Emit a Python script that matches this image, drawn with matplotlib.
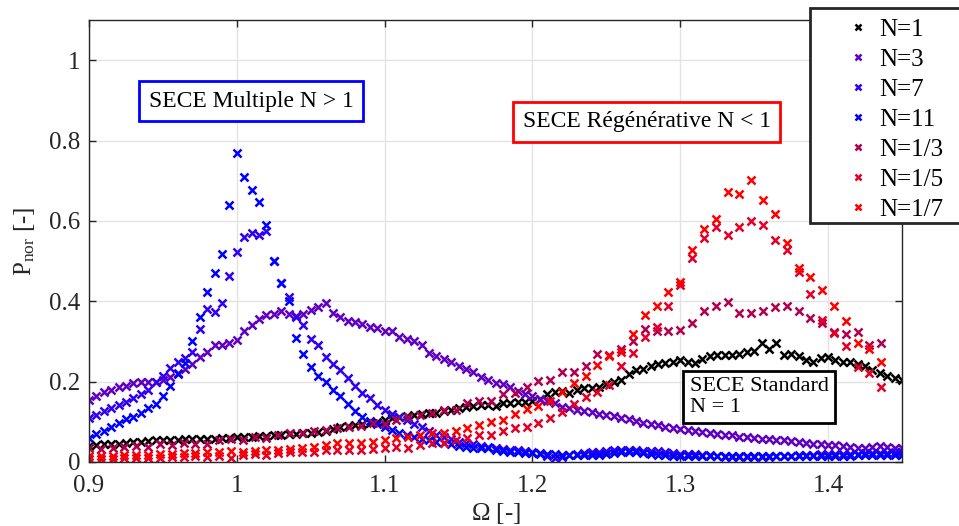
import numpy as np
import matplotlib
matplotlib.use("Agg")
import matplotlib.pyplot as plt
from matplotlib.patches import Rectangle

# ------------------------------------------
# Data
# ------------------------------------------

# dense sweeps: 0.900 ... 1.450, step 0.005
omega_dense = np.round(np.arange(0.9, 1.45001, 0.005), 3)

p_n1 = [
    0.040, 0.042, 0.044, 0.045, 0.046, 0.048, 0.050, 0.051, 0.052, 0.054,
    0.054, 0.055, 0.055, 0.056, 0.057, 0.057, 0.058, 0.058, 0.059, 0.060,
    0.061, 0.062, 0.063, 0.064, 0.065, 0.066, 0.068, 0.069, 0.070, 0.071,
    0.072, 0.075, 0.078, 0.082, 0.086, 0.089, 0.092, 0.095, 0.097, 0.099,
    0.104, 0.109, 0.112, 0.114, 0.117, 0.119, 0.121, 0.123, 0.126, 0.130,
    0.134, 0.137, 0.139, 0.141, 0.143, 0.140, 0.146, 0.148, 0.150, 0.150,
    0.152, 0.158, 0.168, 0.175, 0.177, 0.172, 0.180, 0.183, 0.184, 0.187,
    0.195, 0.199, 0.205, 0.218, 0.229, 0.232, 0.240, 0.243, 0.247, 0.250,
    0.253, 0.250, 0.247, 0.256, 0.263, 0.267, 0.266, 0.267, 0.270, 0.275,
    0.276, 0.297, 0.280, 0.297, 0.267, 0.270, 0.265, 0.255, 0.250, 0.258,
    0.262, 0.255, 0.250, 0.248, 0.244, 0.238, 0.228, 0.222, 0.214, 0.208,
    0.204,
]

p_n3 = [
    0.155, 0.165, 0.175, 0.180, 0.186, 0.190, 0.196, 0.200, 0.200, 0.200,
    0.205, 0.212, 0.222, 0.232, 0.245, 0.262, 0.275, 0.292, 0.290, 0.296,
    0.303, 0.325, 0.340, 0.356, 0.366, 0.368, 0.375, 0.368, 0.363, 0.368,
    0.378, 0.385, 0.395, 0.370, 0.360, 0.352, 0.348, 0.343, 0.337, 0.333,
    0.326, 0.325, 0.312, 0.306, 0.300, 0.290, 0.272, 0.263, 0.256, 0.249,
    0.240, 0.232, 0.223, 0.212, 0.203, 0.197, 0.193, 0.186, 0.177, 0.169,
    0.164, 0.158, 0.153, 0.146, 0.138, 0.134, 0.130, 0.127, 0.124, 0.120,
    0.117, 0.114, 0.110, 0.106, 0.102, 0.098, 0.095, 0.092, 0.088, 0.085,
    0.082, 0.080, 0.077, 0.075, 0.072, 0.070, 0.068, 0.066, 0.063, 0.061,
    0.060, 0.058, 0.056, 0.055, 0.054, 0.052, 0.050, 0.048, 0.046, 0.045,
    0.043, 0.042, 0.040, 0.038, 0.036, 0.035, 0.038, 0.039, 0.037, 0.036,
    0.035,
]

p_n7 = [
    0.110, 0.118, 0.128, 0.135, 0.142, 0.150, 0.160, 0.168, 0.180, 0.198,
    0.215, 0.235, 0.250, 0.258, 0.275, 0.330, 0.380, 0.374, 0.396, 0.462,
    0.522, 0.560, 0.570, 0.566, 0.575, 0.500, 0.445, 0.410, 0.360, 0.340,
    0.305, 0.290, 0.262, 0.245, 0.229, 0.208, 0.190, 0.172, 0.159, 0.143,
    0.130, 0.119, 0.112, 0.105, 0.095, 0.086, 0.076, 0.068, 0.062, 0.056,
    0.051, 0.047, 0.044, 0.040, 0.037, 0.035, 0.032, 0.030, 0.029, 0.027,
    0.026, 0.022, 0.015, 0.010, 0.012, 0.018, 0.020, 0.022, 0.024, 0.026,
    0.028, 0.030, 0.030, 0.029, 0.030, 0.028, 0.028, 0.027, 0.025, 0.022,
    0.020, 0.020, 0.019, 0.018, 0.017, 0.016, 0.012, 0.012, 0.013, 0.012,
    0.012, 0.013, 0.012, 0.014, 0.015, 0.016, 0.017, 0.018, 0.018, 0.019,
    0.019, 0.020, 0.020, 0.021, 0.021, 0.022, 0.022, 0.023, 0.023, 0.024,
    0.024,
]

p_n11 = [
    0.060, 0.070, 0.078, 0.087, 0.097, 0.106, 0.113, 0.122, 0.134, 0.145,
    0.165, 0.190, 0.220, 0.246, 0.300, 0.360, 0.424, 0.470, 0.518, 0.640,
    0.769, 0.709, 0.676, 0.647, 0.590, 0.500, 0.445, 0.400, 0.309, 0.270,
    0.236, 0.215, 0.198, 0.180, 0.165, 0.145, 0.128, 0.113, 0.103, 0.095,
    0.088, 0.080, 0.073, 0.067, 0.062, 0.058, 0.055, 0.051, 0.048, 0.045,
    0.041, 0.038, 0.036, 0.035, 0.034, 0.031, 0.028, 0.026, 0.025, 0.023,
    0.022, 0.021, 0.020, 0.019, 0.018, 0.018, 0.017, 0.017, 0.017, 0.018,
    0.020, 0.022, 0.024, 0.025, 0.024, 0.022, 0.020, 0.018, 0.017, 0.016,
    0.016, 0.015, 0.015, 0.015, 0.015, 0.014, 0.014, 0.014, 0.014, 0.014,
    0.014, 0.014, 0.014, 0.014, 0.015, 0.015, 0.015, 0.015, 0.015, 0.016,
    0.016, 0.016, 0.016, 0.016, 0.017, 0.017, 0.017, 0.017, 0.018, 0.018,
    0.018,
]

# sparse sweeps: 0.900 ... 1.436, step 0.008
omega_sparse = np.round(0.9 + 0.008 * np.arange(68), 3)

p_n1_3 = [
    0.035, 0.033, 0.036, 0.037, 0.040, 0.038, 0.045, 0.042, 0.047, 0.045,
    0.046, 0.055, 0.057, 0.055, 0.062, 0.060, 0.067, 0.071, 0.072, 0.076,
    0.080, 0.085, 0.088, 0.090, 0.097, 0.095, 0.105, 0.113, 0.117, 0.122,
    0.130, 0.130, 0.146, 0.153, 0.153, 0.169, 0.171, 0.186, 0.202, 0.204,
    0.223, 0.225, 0.239, 0.269, 0.266, 0.281, 0.300, 0.330, 0.325, 0.327,
    0.329, 0.347, 0.376, 0.387, 0.397, 0.370, 0.370, 0.376, 0.385, 0.389,
    0.376, 0.358, 0.345, 0.323, 0.319, 0.323, 0.292, 0.296,
]

p_n1_5 = [
    0.007, 0.008, 0.008, 0.009, 0.010, 0.010, 0.011, 0.012, 0.013, 0.014,
    0.012, 0.016, 0.010, 0.017, 0.019, 0.017, 0.022, 0.026, 0.026, 0.026,
    0.030, 0.030, 0.030, 0.030, 0.032, 0.034, 0.038, 0.034, 0.042, 0.047,
    0.047, 0.055, 0.059, 0.067, 0.067, 0.076, 0.084, 0.088, 0.096, 0.109,
    0.125, 0.145, 0.163, 0.175, 0.192, 0.239, 0.272, 0.310, 0.337, 0.387,
    0.441, 0.508, 0.557, 0.586, 0.566, 0.586, 0.600, 0.589, 0.553, 0.528,
    0.474, 0.418, 0.354, 0.321, 0.289, 0.237, 0.221, 0.186,
]

p_n1_7 = [
    0.015, 0.016, 0.016, 0.017, 0.018, 0.018, 0.019, 0.020, 0.022, 0.022,
    0.024, 0.025, 0.027, 0.025, 0.028, 0.030, 0.030, 0.033, 0.035, 0.038,
    0.042, 0.047, 0.047, 0.048, 0.050, 0.055, 0.059, 0.063, 0.067, 0.071,
    0.073, 0.076, 0.084, 0.092, 0.099, 0.105, 0.120, 0.131, 0.140, 0.153,
    0.173, 0.196, 0.213, 0.242, 0.264, 0.275, 0.319, 0.365, 0.387, 0.422,
    0.449, 0.528, 0.580, 0.605, 0.671, 0.667, 0.701, 0.651, 0.618, 0.545,
    0.483, 0.460, 0.429, 0.387, 0.352, 0.297, 0.281, 0.248,
]

labels = ['N=1', 'N=3', 'N=7', 'N=11', 'N=1/3', 'N=1/5', 'N=1/7']
colors = ['#000000', '#6000C0', '#3000F0', '#0000FF', '#B00050', '#E00028', '#FF0000']

# ------------------------------------------
# Figure
# ------------------------------------------

plt.rcParams['font.family'] = ['Liberation Serif', 'DejaVu Serif']
plt.rcParams['mathtext.fontset'] = 'custom'
plt.rcParams['mathtext.rm'] = 'Liberation Serif'
plt.rcParams['mathtext.it'] = 'Liberation Serif:italic'

fig = plt.figure(figsize=(9.59, 5.26), dpi=100)
ax = fig.add_axes([89/959, 1 - 462/526, (902 - 89)/959, (462 - 20)/526])

series = [
    (omega_dense, p_n1),
    (omega_dense, p_n3),
    (omega_dense, p_n7),
    (omega_dense, p_n11),
    (omega_sparse, p_n1_3),
    (omega_sparse, p_n1_5),
    (omega_sparse, p_n1_7),
]

handles = []
for (xs, ys), lab, col in zip(series, labels, colors):
    h, = ax.plot(xs, ys, linestyle='none', marker='x', markersize=5.5,
                 markeredgewidth=1.8, color=col, label=lab)
    handles.append(h)

ax.set_xlim(0.9, 1.45)
ax.set_ylim(0, 1.1)
ax.set_xticks([0.9, 1.0, 1.1, 1.2, 1.3, 1.4])
ax.set_xticklabels(['0.9', '1', '1.1', '1.2', '1.3', '1.4'])
ax.set_yticks([0, 0.2, 0.4, 0.6, 0.8, 1.0])
ax.set_yticklabels(['0', '0.2', '0.4', '0.6', '0.8', '1'])
ax.tick_params(direction='in', length=5, width=1, labelsize=18,
               top=True, right=True, colors='#262626', labelcolor='#262626')
ax.tick_params(axis='x', pad=9)
ax.tick_params(axis='y', pad=6)
ax.grid(True, color='#e3e3e3', linewidth=1)
ax.set_axisbelow(True)
for s in ax.spines.values():
    s.set_color('#262626')
    s.set_linewidth(1)

ax.set_xlabel(r'$\Omega$ [-]', fontsize=18, color='#262626', labelpad=3)
ax.set_ylabel(r'P$_{\rm nor}$ [-]', fontsize=18, color='#262626', labelpad=9)

# annotation boxes
ax.text(1.0098, 0.898, 'SECE Multiple N > 1', fontsize=17, ha='center', va='center',
        bbox=dict(boxstyle='square,pad=0.4', facecolor='white', edgecolor='#0000FF', linewidth=2))
ax.text(1.2774, 0.847, 'SECE Régénérative N < 1', fontsize=17, ha='center', va='center',
        bbox=dict(boxstyle='square,pad=0.4', facecolor='white', edgecolor='#FF0000', linewidth=2))
ax.text(1.3065, 0.162, 'SECE Standard\nN = 1', fontsize=16, ha='left', va='center',
        linespacing=1.1,
        bbox=dict(boxstyle='square,pad=0.3', facecolor='white', edgecolor='#000000', linewidth=2))

# legend (frame drawn separately so it can run past the figure edge)
fig.patches.append(Rectangle((810/959, 1 - 223/526), 0.2, (223 - 8)/526,
                             transform=fig.transFigure, facecolor='white',
                             edgecolor='#262626', linewidth=2, zorder=5))
leg = fig.legend(handles=handles, loc='upper left', bbox_to_anchor=(828/959, 1 - 1/526),
                 frameon=False, fontsize=18, numpoints=1, handlelength=1.0,
                 handletextpad=0.35, labelspacing=0.3, markerscale=0.8,
                 borderpad=0.2)
leg.set_zorder(6)

fig.savefig('out.png', dpi=100)
